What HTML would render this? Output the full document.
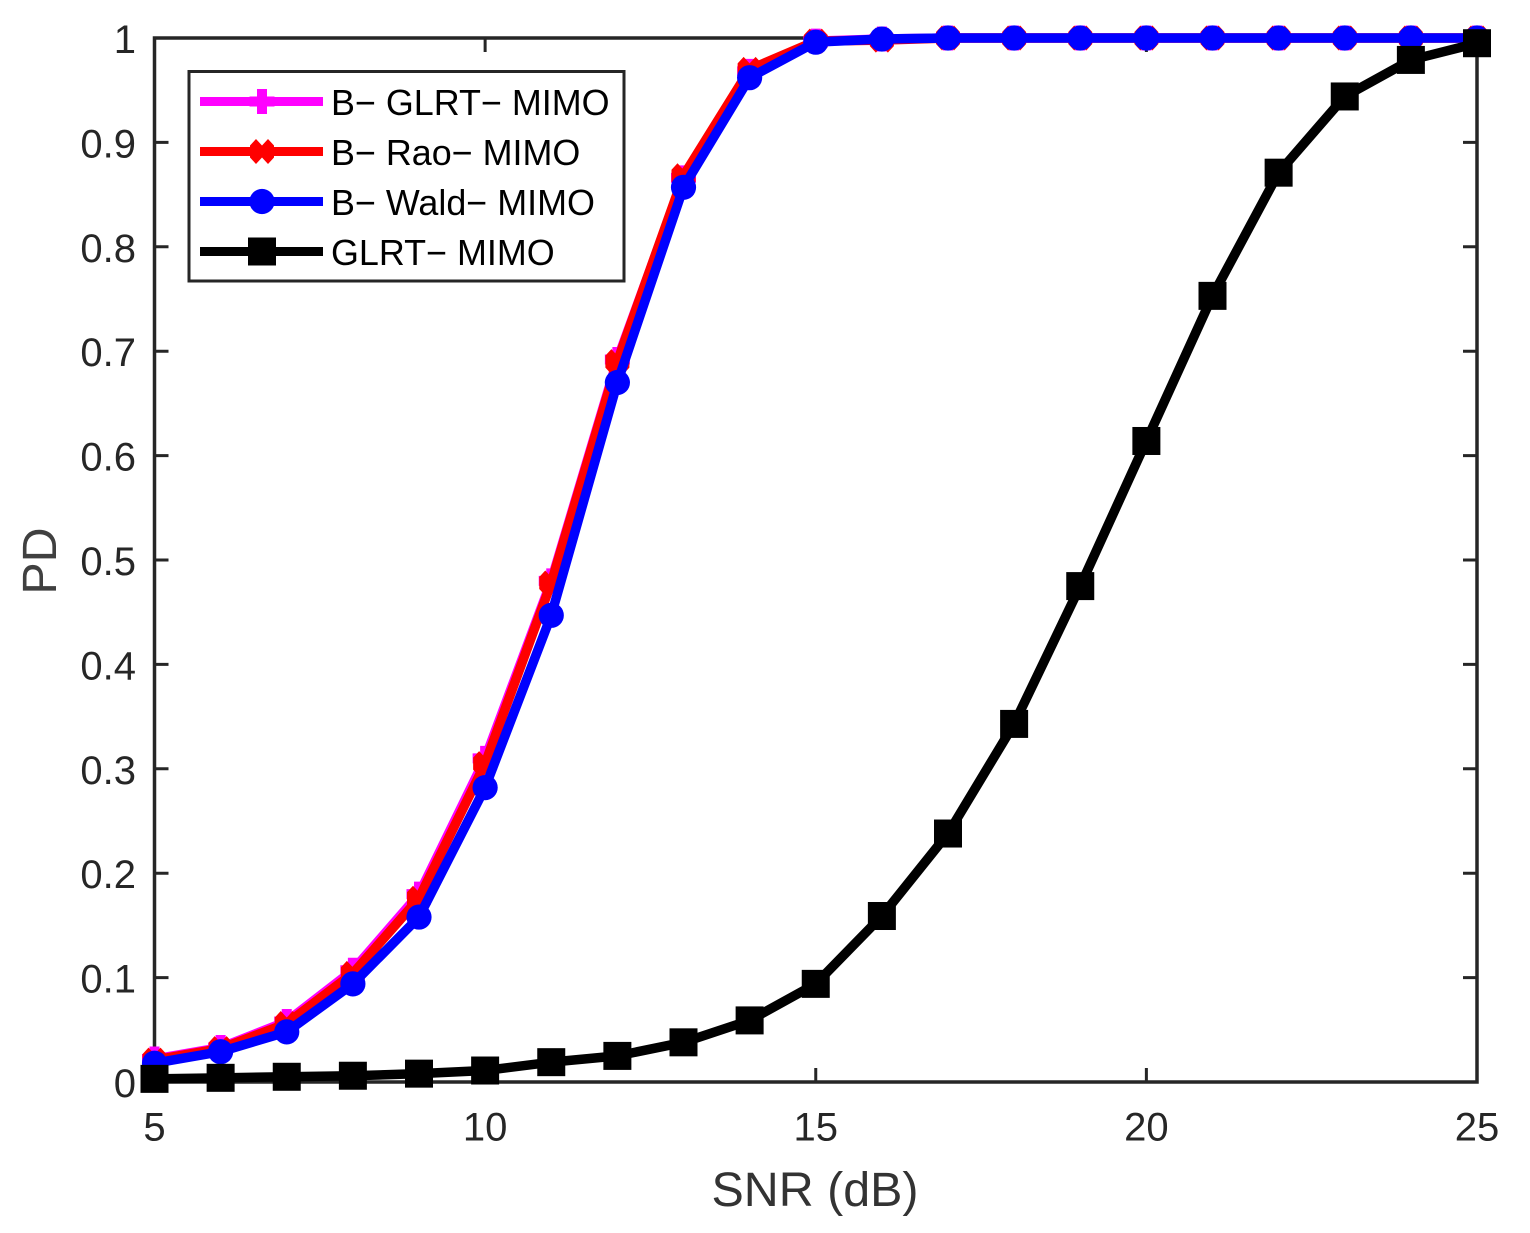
<!DOCTYPE html>
<html>
<head>
<meta charset="utf-8">
<title>PD vs SNR</title>
<style>
html,body{margin:0;padding:0;background:#fff;}
svg{display:block;}
text{font-family:"Liberation Sans",Arial,sans-serif;fill:#262626;}
</style>
</head>
<body>
<svg id="chart" xmlns="http://www.w3.org/2000/svg" width="1530" height="1233" viewBox="0 0 1530 1233"></svg>
<script>
const snrValues = [5,6,7,8,9,10,11,12,13,14,15,16,17,18,19,20,21,22,23,24,25];
const bGlrtValues = [0.022,0.033,0.058,0.107,0.180,0.310,0.480,0.692,0.866,0.968,0.997,0.999,1,1,1,1,1,1,1,1,1];
const bRaoValues = [0.021,0.032,0.056,0.104,0.176,0.305,0.478,0.690,0.868,0.970,0.997,0.998,1,1,1,1,1,1,1,1,1];
const bWaldValues = [0.018,0.029,0.048,0.094,0.158,0.282,0.447,0.670,0.857,0.962,0.996,0.999,1,1,1,1,1,1,1,1,1];
const glrtValues = [0.003,0.004,0.005,0.006,0.008,0.011,0.019,0.025,0.038,0.059,0.094,0.159,0.238,0.343,0.475,0.614,0.753,0.871,0.944,0.979,0.995];
const xTickValues = [5,10,15,20,25];
const yTickValues = [0,0.1,0.2,0.3,0.4,0.5,0.6,0.7,0.8,0.9,1];
const yTickLabels = ['0','0.1','0.2','0.3','0.4','0.5','0.6','0.7','0.8','0.9','1'];
const seriesNames = ['B\u2212 GLRT\u2212 MIMO','B\u2212 Rao\u2212 MIMO','B\u2212 Wald\u2212 MIMO','GLRT\u2212 MIMO'];

const NS = 'http://www.w3.org/2000/svg';
const svg = document.getElementById('chart');
const plotLeft = 154.5, plotRight = 1477, plotTop = 38, plotBottom = 1082;
function xScale(v){ return plotLeft + (v - 5) / 20 * (plotRight - plotLeft); }
function yScale(v){ return plotBottom - v * (plotBottom - plotTop); }
function make(tag, attrs, parent){
  const el = document.createElementNS(NS, tag);
  for (const k in attrs) el.setAttribute(k, attrs[k]);
  (parent || svg).appendChild(el);
  return el;
}
function markerShape(kind, cx, cy, color, parent){
  if (kind === 'plus') {
    return make('path', {d:`M${cx-5} ${cy-12.5}h10v7.5h7.5v10h-7.5v7.5h-10v-7.5h-7.5v-10h7.5z`, fill:color}, parent);
  }
  if (kind === 'x') {
    return make('path', {d:`M${cx-12} ${cy-6}L${cx-6} ${cy-12.5}L${cx} ${cy-6}L${cx+6} ${cy-12.5}L${cx+12} ${cy-6}L${cx+12} ${cy+6}L${cx+6} ${cy+12.5}L${cx} ${cy+6}L${cx-6} ${cy+12.5}L${cx-12} ${cy+6}z`, fill:color}, parent);
  }
  if (kind === 'circle') {
    return make('circle', {cx:cx, cy:cy, r:12.6, fill:color}, parent);
  }
  return make('rect', {x:cx-14, y:cy-14, width:28, height:28, fill:color}, parent);
}

// axes box
const axesBox = make('rect', {x:plotLeft, y:plotTop, width:plotRight-plotLeft, height:plotBottom-plotTop, fill:'#fff', stroke:'#262626', 'stroke-width':3.5});



// ticks and labels
const tickLen = 14;
xTickValues.forEach(function(v){
  const x = xScale(v);
  const t = make('path', {d:`M${x} ${plotBottom}v${-tickLen}M${x} ${plotTop}v${tickLen}`, stroke:'#262626', 'stroke-width':3, fill:'none'});
  
  
  const l = make('text', {x:x, y:1140.5, 'text-anchor':'middle', 'font-size':40});
  l.textContent = String(v);
  
  
});
yTickValues.forEach(function(v, i){
  const y = yScale(v);
  const t = make('path', {d:`M${plotLeft} ${y}h${tickLen}M${plotRight} ${y}h${-tickLen}`, stroke:'#262626', 'stroke-width':3, fill:'none'});
  
  
  const l = make('text', {x:136, y:y+15, 'text-anchor':'end', 'font-size':40});
  l.textContent = yTickLabels[i];
  
  
});

const xTitle = make('text', {x:815, y:1206, 'text-anchor':'middle', 'font-size':48.4, style:'fill:#333'});
xTitle.textContent = 'SNR (dB)';


const yTitle = make('text', {x:0, y:0, 'text-anchor':'middle', 'font-size':48.4, style:'fill:#404040', transform:'translate(56 561) rotate(-90)'});
yTitle.textContent = 'PD';



// series
function drawSeries(values, color, kind){
  const g = make('g', {});
  const pts = values.map(function(v, i){ return [xScale(snrValues[i]), yScale(v)]; });
  make('polyline', {points:pts.map(function(p){return p.join(',');}).join(' '), fill:'none', stroke:color, 'stroke-width':9.5, 'stroke-linejoin':'round'}, g);
  pts.forEach(function(p){ markerShape(kind, p[0], p[1], color, g); });
  return g;
}
const glrtSeriesA = drawSeries(bGlrtValues, '#ff00ff', 'plus');


const raoSeries = drawSeries(bRaoValues, '#ff0000', 'x');


const waldSeries = drawSeries(bWaldValues, '#0000ff', 'circle');


const glrtSeriesB = drawSeries(glrtValues, '#000000', 'square');



// legend
const legend = make('g', {});


make('rect', {x:189, y:71.5, width:435, height:209.5, fill:'#fff', stroke:'#262626', 'stroke-width':3}, legend);
const legendColors = ['#ff00ff','#ff0000','#0000ff','#000000'];
const legendKinds = ['plus','x','circle','square'];
seriesNames.forEach(function(name, i){
  const y = 101.5 + i * 50;
  const entry = make('g', {}, legend);
  
  
  make('line', {x1:200, x2:323, y1:y, y2:y, stroke:legendColors[i], 'stroke-width':9}, entry);
  markerShape(legendKinds[i], 262, y, legendColors[i], entry);
  const t = make('text', {x:331, y:y+13.5, 'font-size':35.9, style:'fill:#000'}, entry);
  t.textContent = name;
});
</script>
</body>
</html>
